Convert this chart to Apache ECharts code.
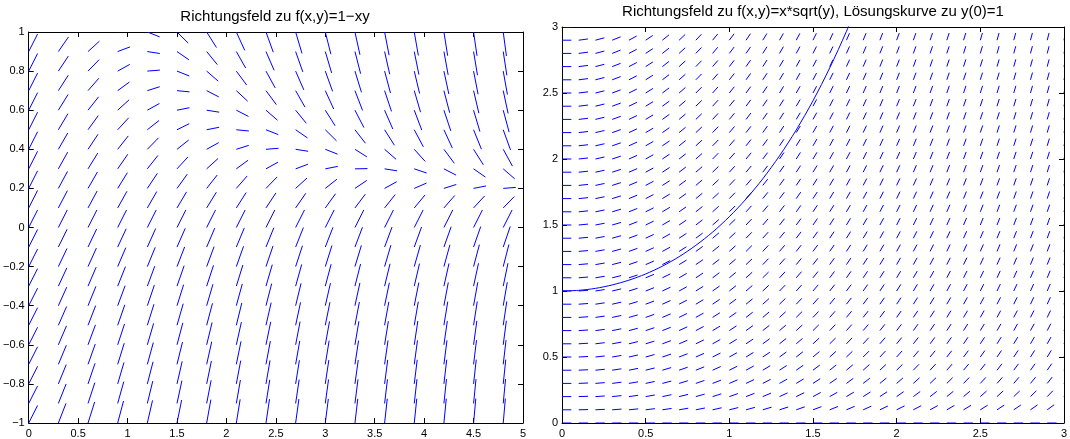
<!DOCTYPE html>
<html>
<head>
<meta charset="utf-8">
<script src="https://cdn.jsdelivr.net/npm/echarts@6/dist/echarts.min.js"></script>
<style>
html,body{margin:0;padding:0;background:#fff;}
#chart{width:1070px;height:439px;}
</style>
</head>
<body>
<div id="chart"></div>
<script>
// ---- data ----
// Left panel: direction field of f(x,y) = 1 - x*y, sample grid
const leftX = [0, 0.3, 0.6, 0.9, 1.2, 1.5, 1.8, 2.1, 2.4, 2.7, 3.0, 3.3, 3.6, 3.9, 4.2, 4.5, 4.8];
const leftY = [-1, -0.9, -0.8, -0.7, -0.6, -0.5, -0.4, -0.3, -0.2, -0.1, 0, 0.1, 0.2, 0.3, 0.4, 0.5, 0.6, 0.7, 0.8, 0.9, 1];
// Right panel: direction field of f(x,y) = x*sqrt(y), sample grid
const rightX = [0, 0.1, 0.2, 0.3, 0.4, 0.5, 0.6, 0.7, 0.8, 0.9, 1.0, 1.1, 1.2, 1.3, 1.4, 1.5, 1.6, 1.7, 1.8, 1.9, 2.0, 2.1, 2.2, 2.3, 2.4, 2.5, 2.6, 2.7, 2.8, 2.9, 3.0];
const rightY = [0, 0.1, 0.2, 0.3, 0.4, 0.5, 0.6, 0.7, 0.8, 0.9, 1.0, 1.1, 1.2, 1.3, 1.4, 1.5, 1.6, 1.7, 1.8, 1.9, 2.0, 2.1, 2.2, 2.3, 2.4, 2.5, 2.6, 2.7, 2.8, 2.9, 3.0];
// Solution curve through y(0)=1
const curveX = [0, 0.1, 0.2, 0.3, 0.4, 0.5, 0.6, 0.7, 0.8, 0.9, 1.0, 1.1, 1.2, 1.3, 1.4, 1.5, 1.6, 1.7, 1.8];
const curveY = [1.000, 1.005, 1.020, 1.046, 1.082, 1.129, 1.188, 1.260, 1.346, 1.446, 1.563, 1.697, 1.850, 2.024, 2.220, 2.441, 2.690, 2.967, 3.276];
// Tick labels
const leftXTicks = ['0', '0.5', '1', '1.5', '2', '2.5', '3', '3.5', '4', '4.5', '5'];
const leftYTicks = ['\u22121', '\u22120.8', '\u22120.6', '\u22120.4', '\u22120.2', '0', '0.2', '0.4', '0.6', '0.8', '1'];
const rightXTicks = ['0', '0.5', '1', '1.5', '2', '2.5', '3'];
const rightYTicks = ['0', '0.5', '1', '1.5', '2', '2.5', '3'];
const leftTitle = 'Richtungsfeld zu f(x,y)=1\u2212xy';
const rightTitle = 'Richtungsfeld zu f(x,y)=x*sqrt(y), L\u00f6sungskurve zu y(0)=1';

// slope functions as stated in the titles
const fLeft = (x, y) => 1 - x * y;
const fRight = (x, y) => x * Math.sqrt(y);

function fieldData(xs, ys, f) {
  const out = [];
  ys.forEach(y => xs.forEach(x => out.push([x, y, f(x, y)])));
  return out;
}

const BLUE = '#0000ff';
const FONT = '"Liberation Sans", Helvetica, Arial, sans-serif';

function makeRender(len) {
  return function (params, api) {
    const x = api.value(0), y = api.value(1), s = api.value(2);
    const n = Math.sqrt(1 + s * s);
    const p1 = api.coord([x, y]);
    const p2 = api.coord([x + len / n, y + len * s / n]);
    return {
      type: 'line',
      shape: { x1: p1[0], y1: p1[1], x2: p2[0], y2: p2[1] },
      style: { stroke: BLUE, lineWidth: 1 }
    };
  };
}

function labelFrom(arr, min, step) {
  return function (v) {
    const i = Math.round((v - min) / step);
    return arr[i] !== undefined ? arr[i] : '';
  };
}

function axisPair(kind, gridIndex, min, max, interval, labels) {
  const base = {
    type: 'value', gridIndex, min, max, interval,
    splitLine: { show: false },
    axisLine: { show: true, onZero: false, lineStyle: { color: '#000', width: 1 } },
    axisTick: { show: true, inside: true, length: 5, lineStyle: { color: '#000' } }
  };
  const main = Object.assign({}, base, {
    position: kind === 'x' ? 'bottom' : 'left',
    axisLabel: { show: true, color: '#000', fontFamily: FONT, fontSize: 11, margin: kind === 'x' ? 5 : 4,
      formatter: labelFrom(labels, min, interval) }
  });
  const mirror = Object.assign({}, base, {
    position: kind === 'x' ? 'top' : 'right',
    axisLabel: { show: false }
  });
  return [main, mirror];
}

const chart = echarts.init(document.getElementById('chart'), null, { renderer: 'canvas' });

const lx = axisPair('x', 0, 0, 5, 0.5, leftXTicks);
const ly = axisPair('y', 0, -1, 1, 0.2, leftYTicks);
const rx = axisPair('x', 1, 0, 3, 0.5, rightXTicks);
const ry = axisPair('y', 1, 0, 3, 0.5, rightYTicks);

chart.setOption({
  animation: false,
  backgroundColor: '#fff',
  grid: [
    { left: 27, top: 32, width: 496, height: 391 },
    { left: 562, top: 27, width: 502, height: 396 }
  ],
  xAxis: [lx[0], lx[1], rx[0], rx[1]],
  yAxis: [ly[0], ly[1], ry[0], ry[1]],
  graphic: [
    { type: 'text', x: 275, y: 17, style: { text: leftTitle, font: '15px ' + FONT, fill: '#000', align: 'center', verticalAlign: 'middle' } },
    { type: 'text', x: 813, y: 12, style: { text: rightTitle, font: '15px ' + FONT, fill: '#000', align: 'center', verticalAlign: 'middle' } }
  ],
  series: [
    {
      type: 'custom', xAxisIndex: 0, yAxisIndex: 0, clip: true,
      renderItem: makeRender(0.127),
      encode: { x: 0, y: 1 },
      data: fieldData(leftX, leftY, fLeft)
    },
    {
      type: 'custom', xAxisIndex: 2, yAxisIndex: 2, clip: true,
      renderItem: makeRender(0.056),
      encode: { x: 0, y: 1 },
      data: fieldData(rightX, rightY, fRight)
    },
    {
      type: 'line', xAxisIndex: 2, yAxisIndex: 2, clip: true,
      showSymbol: false, smooth: 0.3,
      lineStyle: { color: BLUE, width: 1 },
      data: curveX.map((x, i) => [x, curveY[i]])
    }
  ]
});
</script>
</body>
</html>
